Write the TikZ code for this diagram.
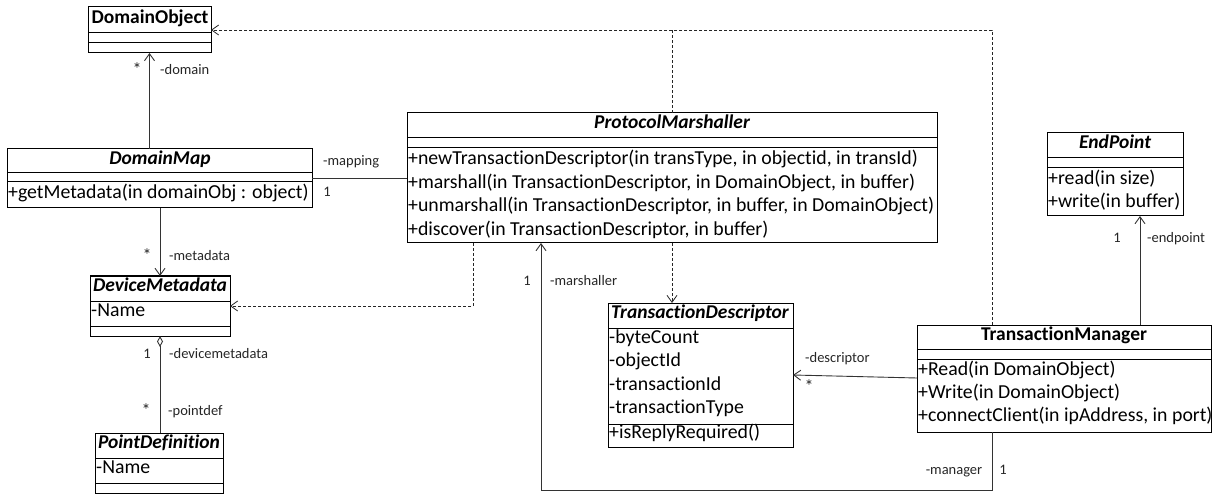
\documentclass[tikz,border=0pt]{standalone}
\usepackage{fontspec}
\setmainfont{Carlito}[Ligatures={NoCommon}]
\usetikzlibrary{arrows.meta}
\newcommand{\csep}[2]{\draw[line width=1pt] ([yshift=-#2pt]#1.north west) -- ([yshift=-#2pt]#1.north east);}
\begin{document}
\begin{tikzpicture}[x=1pt,y=-1pt,
  cls/.style={draw=black, line width=1pt, inner sep=0, outer sep=0, fill=white},
  ttl/.style={font=\fontsize{19.5}{22}\selectfont\bfseries, inner sep=0, anchor=mid},
  ttli/.style={font=\fontsize{19.5}{22}\selectfont\bfseries\itshape, inner sep=0, anchor=mid},
  mem/.style={font=\fontsize{19.8}{22}\selectfont, anchor=mid west, inner sep=0},
  lbl/.style={font=\fontsize{14.5}{16}\selectfont, text=black!85, inner sep=0, anchor=mid},
  lblw/.style={lbl, anchor=mid west},
  star/.style={lbl, font=\fontsize{18}{18}\selectfont},
  assoc/.style={draw=black!80, line width=0.9pt},
  dep/.style={draw=black!85, line width=0.8pt, dash pattern=on 3pt off 2pt},
  navi/.style={-{Straight Barb[length=7pt,width=10pt]}},
]
\useasboundingbox (0,0) rectangle (1212,494);

% ---------- class boxes ----------
\node[cls, minimum width=123, minimum height=46, anchor=north west] (dobj) at (88,7) {};
\csep{dobj}{26}\csep{dobj}{36}
\node[ttl] (dobjt) at (150,21) {DomainObject};

\node[cls, minimum width=305, minimum height=59, anchor=north west] (dmap) at (7,149) {};
\csep{dmap}{24}\csep{dmap}{33}
\node[ttli] (dmapt) at (160,162) {DomainMap};
\node[mem] (dmapm1) at (8,196) {+getMetadata(in domainObj : object)};

\node[cls, minimum width=140, minimum height=60, anchor=north west] (dmeta) at (90,276) {};
\csep{dmeta}{25}\csep{dmeta}{50}
\node[ttli] (dmetat) at (160,289) {DeviceMetadata};
\node[mem] (dmetaa1) at (91,314) {-Name};

\node[cls, minimum width=128, minimum height=60, anchor=north west] (pdef) at (95,433) {};
\csep{pdef}{25}\csep{pdef}{50}
\node[ttli] (pdeft) at (159,446) {PointDefinition};
\node[mem] (pdefa1) at (96,471) {-Name};

\node[cls, minimum width=530, minimum height=130, anchor=north west] (pm) at (407,113) {};
\csep{pm}{25}\csep{pm}{35}
\node[ttli] (pmt) at (672,126) {ProtocolMarshaller};
\node[mem] (pmm1) at (408,162) {+newTransactionDescriptor(in transType, in objectid, in transId)};
\node[mem] (pmm2) at (408,186) {+marshall(in TransactionDescriptor, in DomainObject, in buffer)};
\node[mem] (pmm3) at (408,209) {+unmarshall(in TransactionDescriptor, in buffer, in DomainObject)};
\node[mem] (pmm4) at (408,233) {+discover(in TransactionDescriptor, in buffer)};

\node[cls, minimum width=136, minimum height=83, anchor=north west] (ep) at (1047,133) {};
\csep{ep}{25}\csep{ep}{35}
\node[ttli] (ept) at (1115,146) {EndPoint};
\node[mem] (epm1) at (1048,182) {+read(in size)};
\node[mem] (epm2) at (1048,205) {+write(in buffer)};

\node[cls, minimum width=185, minimum height=144, anchor=north west] (td) at (608,303) {};
\csep{td}{25}\csep{td}{121}
\node[ttli] (tdt) at (700,316) {TransactionDescriptor};
\node[mem] (tda1) at (609,341) {-byteCount};
\node[mem] (tda2) at (609,364) {-objectId};
\node[mem] (tda3) at (609,388) {-transactionId};
\node[mem] (tda4) at (609,411) {-transactionType};
\node[mem] (tdm1) at (609,436) {+isReplyRequired()};

\node[cls, minimum width=294, minimum height=107, anchor=north west] (tm) at (917,325) {};
\csep{tm}{24}\csep{tm}{34}
\node[ttl] (tmt) at (1064,338) {TransactionManager};
\node[mem] (tmm1) at (918,373) {+Read(in DomainObject)};
\node[mem] (tmm2) at (918,396) {+Write(in DomainObject)};
\node[mem] (tmm3) at (918,419) {+connectClient(in ipAddress, in port)};

% ---------- helper coordinates for bends ----------
\coordinate (tmx) at (992,0);
\coordinate (epx) at (1140,0);
\coordinate (pmx1) at (473,0);
\coordinate (pmx2) at (541,0);
\coordinate (low) at (0,490);

% ---------- dependencies ----------
\draw[dep, navi] (tmx |- tm.north) |- (dobj.east);
\draw[dep] (pm.north) -- (pm.north |- dobj.east);
\draw[dep, navi] (pmx1 |- pm.south) |- (dmeta.east);
\draw[dep, navi] (pm.south) -- (pm.south |- td.north);

% ---------- associations ----------
\draw[assoc, navi] (dobj.south |- dmap.north) -- (dobj.south);
\draw[assoc, navi] (dmeta.north |- dmap.south) -- (dmeta.north);
\draw[assoc, {Diamond[open,length=11pt,width=6pt]}-] (dmeta.south) -- (dmeta.south |- pdef.north);
\draw[assoc] (dmap.east) -- (dmap.east -| pm.west);
\draw[assoc, navi] ([yshift=-53pt]tm.north west) -- (td.east);
\draw[assoc, navi] (tmx |- tm.south) -- (tmx |- low) -- (pmx2 |- low) -- (pmx2 |- pm.south);
\draw[assoc, navi] (epx |- tm.north) -- (epx |- ep.south);

% ---------- role names and multiplicities ----------
\node[star] (m1) at (137,73) {*};
\node[lblw] (r1) at (160,72) {-domain};
\node[lblw] (r2) at (323,163) {-mapping};
\node[lbl] (m2) at (327,194) {1};
\node[star] (m3) at (147,259) {*};
\node[lblw] (r3) at (169,258) {-metadata};
\node[lbl] (m4) at (147,356) {1};
\node[lblw] (r4) at (169,356) {-devicemetadata};
\node[star] (m5) at (146,414) {*};
\node[lblw] (r5) at (168,413) {-pointdef};
\node[lbl] (m6) at (527,283) {1};
\node[lblw] (r6) at (550,283) {-marshaller};
\node[lblw] (r7) at (805,360) {-descriptor};
\node[star] (m7) at (809,390) {*};
\node[lbl] (m8) at (1117,240) {1};
\node[lblw] (r8) at (1147,240) {-endpoint};
\node[lbl] (r9) at (954,472) {-manager};
\node[lbl] (m9) at (1003,472) {1};
\end{tikzpicture}
\end{document}
